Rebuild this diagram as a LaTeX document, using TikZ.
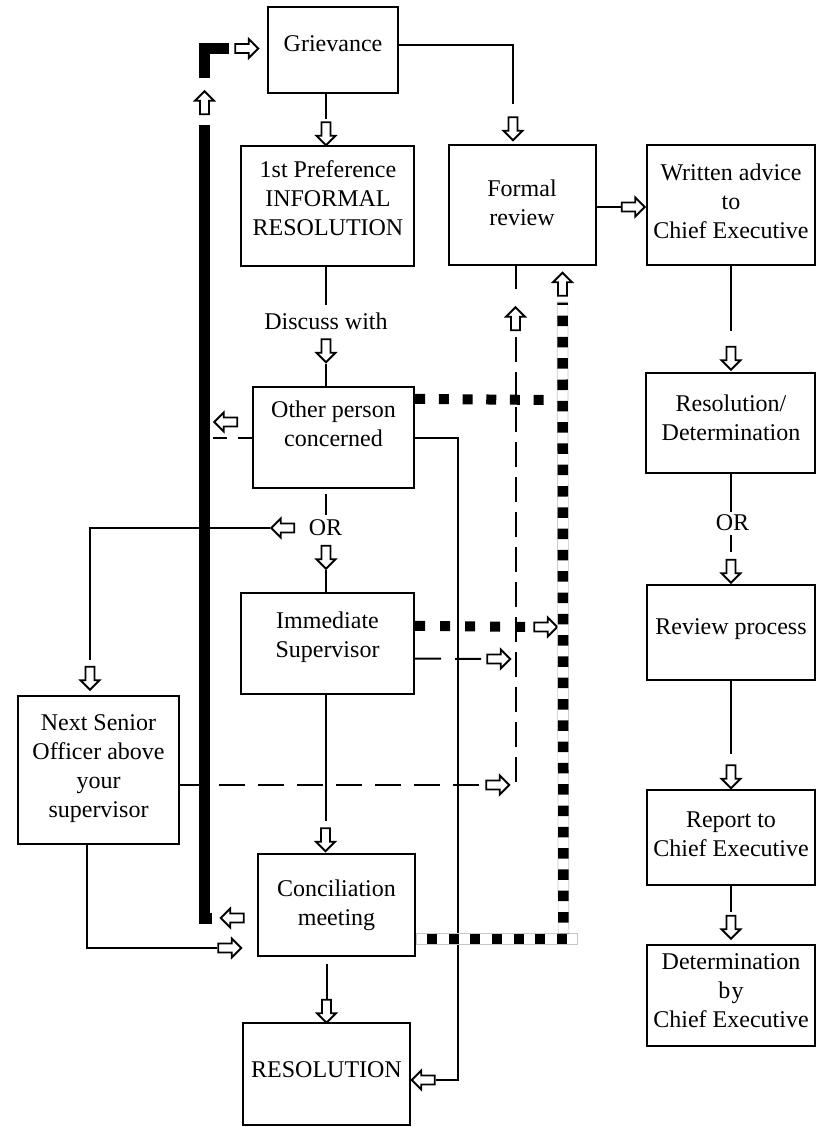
\documentclass[tikz,border=0pt]{standalone}
\usepackage{fontspec}
\setmainfont{Liberation Serif}
\usetikzlibrary{shapes.arrows, calc}
\begin{document}
\begin{tikzpicture}[x=1pt,y=-1pt,
  box/.style={draw, line width=2.3pt, inner sep=0pt},
  txt/.style={align=center, font=\fontsize{24}{29}\selectfont, inner sep=0pt},
  conn/.style={line width=2pt},
  dsh/.style={line width=2pt, dash pattern=on 25pt off 10pt},
  sqd/.style={line width=10pt, dash pattern=on 10pt off 13.7pt},
  harr/.style={single arrow, draw=black, fill=white, line width=1.8pt,
    minimum height=23pt, inner xsep=0pt, inner ysep=3.6pt,
    single arrow head extend=5pt, single arrow tip angle=90},
  thickbar/.style={line width=11pt, miter limit=10}
]
\useasboundingbox (0,0) rectangle (821,1127);
\fill[white] (0,0) rectangle (821,1127);

% boxes
\node[box, minimum width=130pt, minimum height=86pt]  (griev)   at (333,50) {};
\node[box, minimum width=173pt, minimum height=120pt] (pref)    at (327.5,206) {};
\node[box, minimum width=147pt, minimum height=120pt] (formal)  at (522.5,205) {};
\node[box, minimum width=168pt, minimum height=120pt] (written) at (731,205) {};
\node[box, minimum width=161pt, minimum height=101pt] (other)   at (333.5,437.5) {};
\node[box, minimum width=169pt, minimum height=100pt] (resdet)  at (730.5,423) {};
\node[box, minimum width=173pt, minimum height=101pt] (immed)   at (327.5,643.5) {};
\node[box, minimum width=168pt, minimum height=95pt]  (review)  at (731,632.5) {};
\node[box, minimum width=161pt, minimum height=148pt] (senior)  at (98.5,770) {};
\node[box, minimum width=168pt, minimum height=95pt]  (report)  at (731,837.5) {};
\node[box, minimum width=157pt, minimum height=102pt] (concil)  at (336.5,905) {};
\node[box, minimum width=168pt, minimum height=101pt] (determ)  at (731,995.5) {};
\node[box, minimum width=167pt, minimum height=102pt] (resol)   at (326.5,1074) {};

% texts
\node[txt] (grievT)   at (333,44) {Grievance};
\node[txt] (prefT)    at (328,198) {1st Preference\\INFORMAL\\RESOLUTION};
\node[txt] (formalT)  at (522,203) {Formal\\review};
\node[txt] (writtenT) at (731,201) {Written advice\\to\\Chief Executive};
\node[txt] (otherT)   at (333.5,423.5) {Other person\\concerned};
\node[txt] (resdetT)  at (731,418) {Resolution/\\Determination};
\node[txt] (immedT)   at (327.5,637) {Immediate\\Supervisor};
\node[txt] (reviewT)  at (731,629) {Review process};
\node[txt] (seniorT)  at (98.5,769) {Next Senior\\Officer above\\your\\supervisor};
\node[txt] (reportT)  at (731,834) {Report to\\Chief Executive};
\node[txt] (concilT)  at (336.5,905) {Conciliation\\meeting};
\node[txt] (determT)  at (731,991) {Determination\\b\kern1.5pt y\\Chief Executive};
\node[txt] (resolT)   at (326.5,1070) {RESOLUTION};
\node[txt] (discuss)  at (326,321) {Discuss with};
\node[txt] (or1)      at (325.5,528) {OR};
\node[txt] (or2)      at (732.5,523) {OR};

% hollow arrows
\node[harr, rotate=-90] (aG1)     at (326,131.5) {};
\node[harr, rotate=-90] (aG2)     at (513,126.5) {};
\node[harr]             (aF)      at (631,207) {};
\node[harr, rotate=-90] (aW)      at (731,356) {};
\node[harr, rotate=-90] (aR)      at (731,569) {};
\node[harr, rotate=-90] (aRP)     at (731,774.5) {};
\node[harr, rotate=-90] (aRep)    at (731,925) {};
\node[harr, rotate=-90] (aD)      at (326,348.5) {};
\node[harr, rotate=180] (aORl)    at (285,528) {};
\node[harr, rotate=-90] (aORd)    at (326,555) {};
\node[harr, rotate=-90] (aSen)    at (90,676) {};
\node[harr]             (aImDot)  at (543.5,627) {};
\node[harr]             (aImDash) at (496.5,659) {};
\node[harr]             (aSenDash) at (495.5,785) {};
\node[harr, rotate=90]  (aDashUp) at (515.5,321) {};
\node[harr, rotate=90]  (aDotUp)  at (562.5,286.5) {};
\node[harr, rotate=180] (aOthL)   at (228,422) {};
\node[harr, rotate=90]  (aThUp)   at (204.5,105) {};
\node[harr]             (aThR)    at (244.5,48.5) {};
\node[harr, rotate=180] (aConcL)  at (234.5,918) {};
\node[harr]             (aSenR)   at (227.5,948) {};
\node[harr, rotate=-90] (aCd)     at (326.5,1009) {};
\node[harr, rotate=-90] (aImd)    at (325.5,837.5) {};
\node[harr, rotate=180] (aResL)   at (425.5,1080) {};

% helper coordinates
\coordinate (bus)  at (458,1080);
\coordinate (dotO) at (546,400);
\coordinate (dvB)  at (515.5,782);
\coordinate (hbE)  at (578,939);
\coordinate (vbB)  at (563.5,933.5);
\coordinate (tbBot) at (204.5,918);
\coordinate (tbTop) at (204.5,125);
\coordinate (tbCorner) at (204.5,48.5);

% main solid connectors
\draw[conn, shorten >=2pt] (griev.south -| aG1) -- (aG1.tail);
\draw[conn, shorten >=12pt] ([yshift=5pt]griev.east) -| (aG2.tail);
\draw[conn] (formal.east |- aF) -- (aF.tail);
\draw[conn, shorten >=15pt] (written.south) -- (aW.tail);
\draw[conn, shorten >=7pt] (pref.south -| discuss) -- (discuss.north);
\draw[conn] (aD.tip) -- (other.north -| aD);
\draw[conn, shorten <=5pt, shorten >=5pt] (other.south -| or1) -- (or1.north);
\draw[conn] (aORd.tip) -- (immed.north -| aORd);
\draw[conn, shorten >=6pt] (aORl.tip) -| (aSen.tail);
\draw[conn, shorten >=6pt] (immed.south -| aImd) -- (aImd.tail);
\draw[conn, shorten <=7pt] (concil.south -| aCd) -- (aCd.tail);
\draw[conn] ([xshift=-11.5pt]senior.south) |- (aSenR.tail);
\draw[conn, shorten >=3pt] (resdet.south -| aR) -- (or2.north -| aR);
\draw[conn, shorten <=4pt, shorten >=7pt] (or2.south -| aR) -- (aR.tail);
\draw[conn, shorten >=10pt] (review.south) -- (aRP.tail);
\draw[conn, shorten >=3pt] (report.south) -- (aRep.tail);
\draw[conn] (other.east) -| (bus) -- (aResL.tail);
\draw[conn, shorten >=17pt] (formal.south -| aDashUp) -- (aDashUp.tip);

% dashed connectors
\draw[dsh] (dvB) -- (aDashUp.tail);
\draw[conn, dash pattern=on 26pt off 14pt] ([yshift=-15pt]immed.east) -- (aImDash.tail);
\draw[conn, dash pattern=on 26pt off 13pt] (senior.east |- aSenDash) -- (aSenDash.tail);
\draw[conn, dash pattern=on 14pt off 11pt] (other.west) -- (other.west -| tbTop);

% square-dotted connectors
\draw[sqd] ([yshift=-13pt]other.north east) -- (dotO);
\draw[line width=10pt, dash pattern=on 10pt off 15pt, shorten >=5pt] ([yshift=-34pt]immed.north east) -- (aImDot.tail);

% outlined dotted band (Conciliation -> Formal review)
\draw[gray!45, line width=11.4pt] (concil.east |- hbE) -- (hbE);
\draw[white, line width=10pt, shorten <=0.7pt, shorten >=0.7pt] (concil.east |- hbE) -- (hbE);
\draw[gray!45, line width=11.4pt, shorten >=5pt] (vbB) -- (aDotUp.tail);
\draw[white, line width=10pt, shorten >=5.7pt] (vbB) -- (aDotUp.tail);
\draw[line width=10pt, dash pattern=on 10pt off 11.6pt, dash phase=10.6pt] (concil.east |- hbE) -- (hbE);
\draw[line width=10.5pt, dash pattern=on 10.5pt off 10.8pt, dash phase=10.3pt, shorten >=6pt] (vbB) -- (aDotUp.tail);

% thick return bar (Conciliation -> Grievance)
\draw[thickbar] ([xshift=-7pt]aConcL.tip) -- (tbBot) -- (tbTop);
\draw[line width=10.5pt, miter limit=10] ([yshift=12pt]aThUp.tip) -- (tbCorner) -- ([xshift=-5.5pt]aThR.tail);
\end{tikzpicture}
\end{document}
